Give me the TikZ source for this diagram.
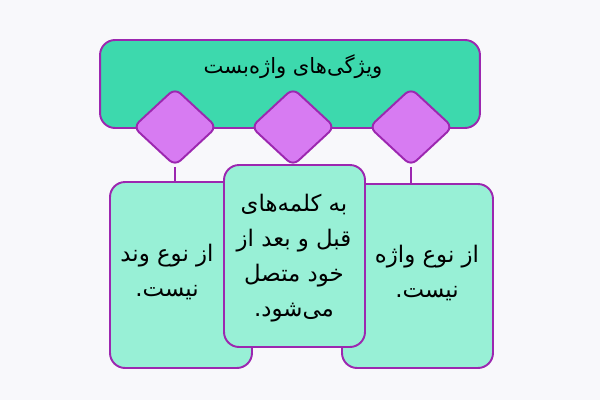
\documentclass[tikz,border=0pt]{standalone}
\usepackage{fontspec}
\newfontfamily\arabicfont[Script=Arabic]{DejaVu Sans}
\TeXXeTstate=1
\usetikzlibrary{shapes.geometric}
\definecolor{bgcol}{HTML}{F8F8FB}
\definecolor{edgecol}{HTML}{9C27B0}
\definecolor{bannercol}{HTML}{3DD9AD}
\definecolor{kitecol}{HTML}{D77BF2}
\definecolor{boxcol}{HTML}{98F0D6}
\newcommand{\fa}[1]{\beginR #1\endR}
\tikzset{
  banner/.style={draw=edgecol,fill=bannercol,line width=1.1pt,rounded corners=0.3cm,
    minimum width=7.6cm,minimum height=1.76cm,inner sep=0pt},
  kite/.style={diamond,draw=edgecol,fill=kitecol,line width=1.1pt,rounded corners=0.15cm,
    minimum width=1.68cm,minimum height=1.56cm,inner sep=0pt},
  card/.style={draw=edgecol,fill=boxcol,line width=1.1pt,rounded corners=0.3cm,inner sep=0pt},
  cardtext/.style={align=center,font=\arabicfont\fontsize{13}{20}\selectfont},
  link/.style={draw=edgecol,line width=1.1pt}
}
\begin{document}
\begin{tikzpicture}[x=0.02cm,y=-0.02cm]
		\useasboundingbox[fill=bgcol] (0,0) rectangle (600,400);
		\node[banner] (banner) at (290,84) {};
		\node[font=\arabicfont\fontsize{12}{15}\selectfont] (title) at (293,67) {\fa{ویژگی‌های واژه‌بست}};
		\node[kite] (kiteL) at (175,127) {};
		\node[kite] (kiteM) at (293,127) {};
		\node[kite] (kiteR) at (411,127) {};
		\node[card,minimum width=2.84cm,minimum height=3.72cm] (boxL) at (181,275) {};
		\node[card,minimum width=3.02cm,minimum height=3.68cm] (boxR) at (417.5,276) {};
		\draw[link] (kiteL.south) -- (kiteL.south |- boxL.north);
		\draw[link] (kiteR.south) -- (kiteR.south |- boxR.north);
		\node[card,minimum width=2.82cm,minimum height=3.64cm] (boxM) at (294.5,256) {};
		\node[cardtext] (txtL) at (167,272) {\fa{از نوع وند}\\\fa{نیست.}};
		\node[cardtext] (txtM) at (294,258) {\fa{به کلمه‌های}\\\fa{قبل و بعد از}\\\fa{خود متصل}\\\fa{می‌شود.}};
		\node[cardtext] (txtR) at (427,273) {\fa{از نوع واژه}\\\fa{نیست.}};
\end{tikzpicture}
\end{document}
